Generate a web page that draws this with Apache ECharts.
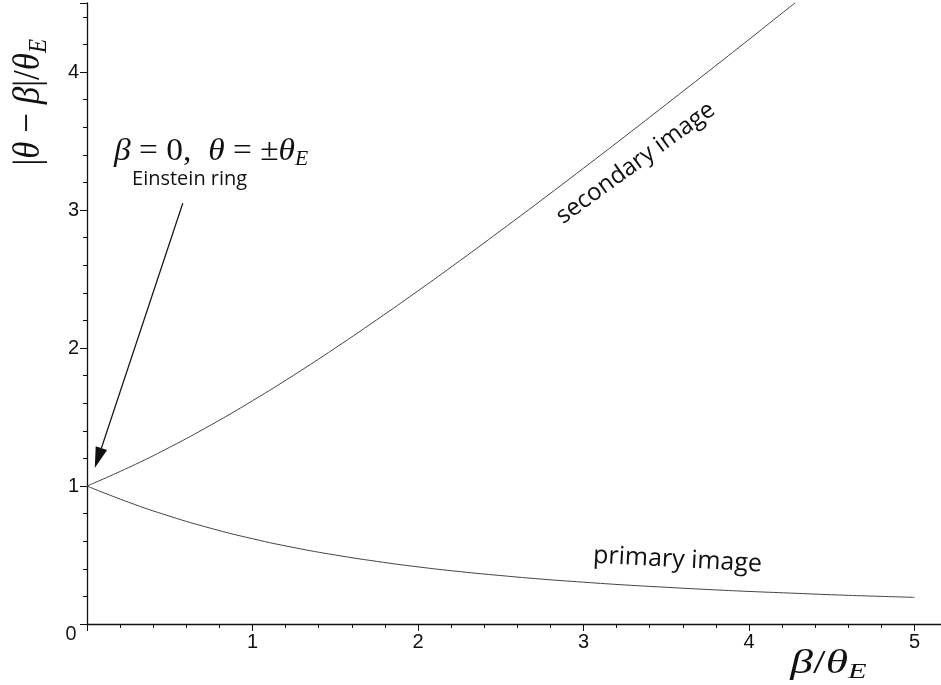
<!DOCTYPE html>
<html>
<head>
<meta charset="utf-8">
<script src="https://cdn.jsdelivr.net/npm/echarts@6/dist/echarts.min.js"></script>
<style>html,body{margin:0;padding:0;background:#fff}#c{width:941px;height:685px}</style>
</head>
<body>
<div id="c"></div>
<script>
// β/θE sample positions and read values of |θ−β|/θE
const secondaryBeta = [0, 0.25, 0.5, 0.75, 1, 1.25, 1.5, 1.75, 2, 2.25, 2.5, 2.75, 3, 3.25, 3.5, 3.75, 4, 4.25, 4.28];
const secondaryValues = [1.000, 1.133, 1.281, 1.443, 1.618, 1.804, 2.000, 2.204, 2.414, 2.630, 2.851, 3.075, 3.303, 3.533, 3.766, 4.000, 4.236, 4.474, 4.500];
const primaryBeta = [0, 0.25, 0.5, 0.75, 1, 1.25, 1.5, 1.75, 2, 2.25, 2.5, 2.75, 3, 3.25, 3.5, 3.75, 4, 4.25, 4.5, 4.75, 5];
const primaryValues = [1.000, 0.883, 0.781, 0.693, 0.618, 0.554, 0.500, 0.454, 0.414, 0.380, 0.351, 0.325, 0.303, 0.283, 0.266, 0.250, 0.236, 0.224, 0.212, 0.202, 0.193];
const xTicks = [0, 1, 2, 3, 4, 5];
const yTicks = [0, 1, 2, 3, 4];

const chart = echarts.init(document.getElementById('c'), null, {renderer: 'canvas'});
const pair = (xs, ys) => xs.map((x, i) => [x, ys[i]]);

chart.setOption({
  animation: false,
  backgroundColor: '#fff',
  grid: {left: 87, right: 0, top: 3, bottom: 61, containLabel: false},
  xAxis: {
    type: 'value', min: 0, max: 5.16, interval: 1,
    axisLine: {show: true, lineStyle: {color: '#111', width: 1.3}},
    axisTick: {show: true, length: 7, lineStyle: {color: '#111', width: 1}},
    minorTick: {show: true, splitNumber: 5, length: 4, lineStyle: {color: '#111', width: 1}},
    splitLine: {show: false},
    axisLabel: {
      margin: 8, fontFamily: 'Liberation Sans', fontSize: 20, color: '#111',
      showMaxLabel: false,
      formatter: v => (xTicks.indexOf(v) > 0 ? String(v) : '')
    }
  },
  yAxis: {
    type: 'value', min: 0, max: 4.5, interval: 1,
    axisLine: {show: true, lineStyle: {color: '#111', width: 1.3}},
    axisTick: {show: true, length: 7, lineStyle: {color: '#111', width: 1}},
    minorTick: {show: true, splitNumber: 5, length: 4, lineStyle: {color: '#111', width: 1}},
    splitLine: {show: false},
    axisLabel: {
      margin: 8, fontFamily: 'Liberation Sans', fontSize: 20, color: '#111',
      showMaxLabel: false,
      formatter: v => (yTicks.indexOf(v) > 0 ? String(v) : '')
    }
  },
  series: [
    {type: 'line', name: 'secondary image', data: pair(secondaryBeta, secondaryValues), smooth: true,
     showSymbol: false, lineStyle: {color: '#444', width: 1}},
    {type: 'line', name: 'primary image', data: pair(primaryBeta, primaryValues), smooth: true,
     showSymbol: false, lineStyle: {color: '#444', width: 1}}
  ]
});

const P = c => chart.convertToPixel({gridIndex: 0}, c);
const mathRich = (size, subSize, subPad) => ({
  i: {fontFamily: 'Liberation Serif', fontStyle: 'italic', fontSize: size, lineHeight: size, verticalAlign: 'top', fill: '#111'},
  n: {fontFamily: 'Liberation Serif', fontSize: size, lineHeight: size, verticalAlign: 'top', fill: '#111'},
  s: {fontFamily: 'Liberation Serif', fontStyle: 'italic', fontSize: subSize, lineHeight: subSize, padding: [subPad, 0, 0, 0], verticalAlign: 'top', fill: '#111'}
});

const origin = P([0, 0]);
const yTitle = P([-0.35, 3.78]);
const xTitle = P([4.48, -0.29]);
const ringEq = P([0.75, 3.42]);
const ringTxt = P([0.62, 3.22]);
const secTxt = P([3.315, 3.34]);
const priTxt = P([3.568, 0.464]);
const aStart = P([0.579, 3.05]);
const aTip = P([0.047, 1.13]);

const dx = aStart[0] - aTip[0], dy = aStart[1] - aTip[1];
const len = Math.hypot(dx, dy), ux = dx / len, uy = dy / len;
const headL = 21, headW = 6;
const bx = aTip[0] + ux * headL, by = aTip[1] + uy * headL;

chart.setOption({
  graphic: [
    {type: 'text', x: origin[0] - 16, y: origin[1] + 10,
     style: {text: '0', font: '20px "Open Sans"', fill: '#111', align: 'center', verticalAlign: 'middle'}},
    {type: 'text', x: yTitle[0], y: yTitle[1], rotation: Math.PI / 2, scaleY: 1.1,
     style: {text: '{n||}{i|θ}{n| − }{i|β}{n||/}{i|θ}{s|E}', rich: mathRich(35, 23, 15), align: 'center', verticalAlign: 'middle'}},
    {type: 'text', x: xTitle[0], y: xTitle[1], scaleX: 1.38,
     style: {text: '{i|β}{n|/}{i|θ}{s|E}', rich: mathRich(33, 22, 14), align: 'center', verticalAlign: 'middle'}},
    {type: 'text', x: ringEq[0], y: ringEq[1], scaleX: 1.08,
     style: {text: '{i|β}{n| = 0,  }{i|θ}{n| = ±}{i|θ}{s|E}', rich: mathRich(31, 20, 13), align: 'center', verticalAlign: 'middle'}},
    {type: 'text', x: ringTxt[0], y: ringTxt[1],
     style: {text: 'Einstein ring', font: '20px "Open Sans"', fill: '#111', align: 'center', verticalAlign: 'middle'}},
    {type: 'text', x: secTxt[0], y: secTxt[1], rotation: 36 * Math.PI / 180,
     style: {text: 'secondary image', font: '24px "Open Sans"', fill: '#111', align: 'center', verticalAlign: 'middle'}},
    {type: 'text', x: priTxt[0], y: priTxt[1], rotation: -3 * Math.PI / 180,
     style: {text: 'primary image', font: '25px "Open Sans"', fill: '#111', align: 'center', verticalAlign: 'middle'}},
    {type: 'line', shape: {x1: aStart[0], y1: aStart[1], x2: bx, y2: by}, style: {stroke: '#111', lineWidth: 1.3}},
    {type: 'polygon', shape: {points: [[aTip[0], aTip[1]], [bx + uy * headW, by - ux * headW], [bx - uy * headW, by + ux * headW]]},
     style: {fill: '#111'}}
  ]
});
</script>
</body>
</html>
